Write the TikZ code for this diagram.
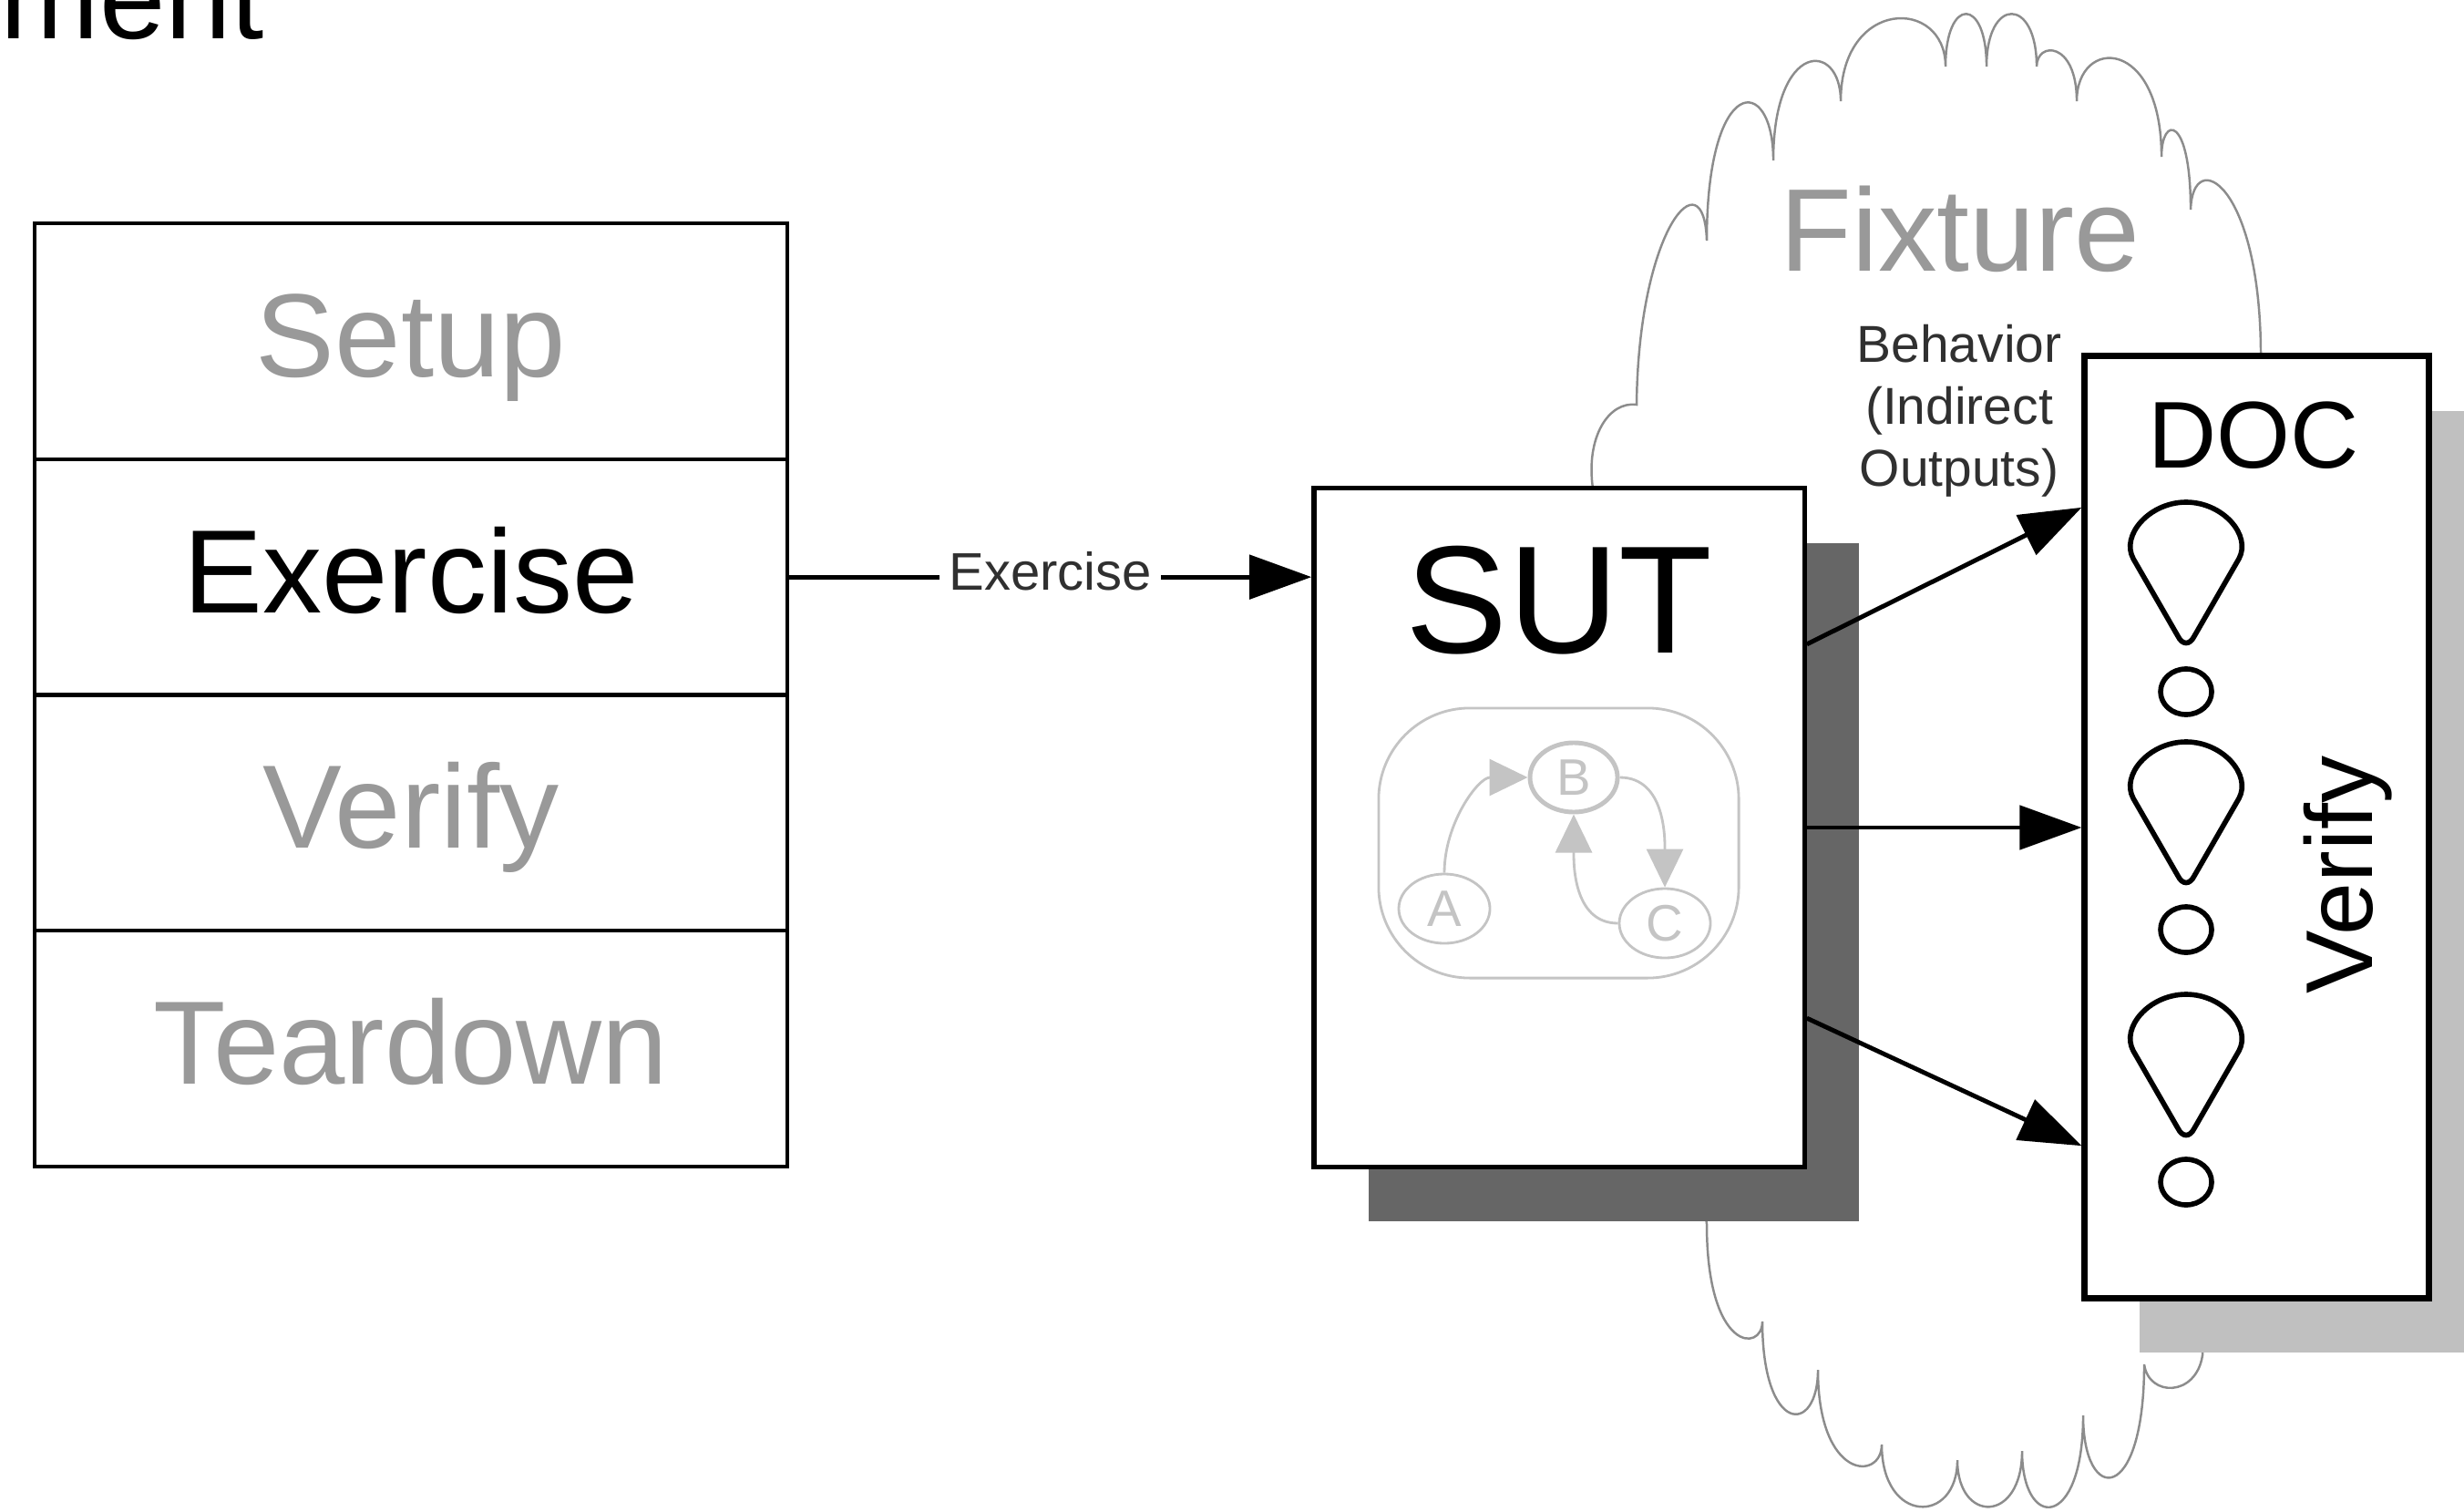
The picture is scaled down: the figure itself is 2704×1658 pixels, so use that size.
\documentclass[tikz,border=0pt]{standalone}
\usepackage{fontspec}
\setmainfont{Liberation Sans}
\usetikzlibrary{arrows.meta,shapes.geometric,shadows,calc}

\definecolor{phasegray}{HTML}{999999}
\definecolor{graphgray}{HTML}{C4C4C4}
\definecolor{cloudgray}{HTML}{8C8C8C}
\definecolor{sutshade}{HTML}{666666}
\definecolor{docshade}{HTML}{C0C0C0}
\definecolor{labelgray}{HTML}{303030}

\tikzset{
  phase/.style={draw=black, line width=1.1pt, inner sep=0pt,
    minimum width=8.26cm, minimum height=2.5875cm,
    text height=1cm, text depth=0.22cm,
    font=\fontsize{37}{44}\selectfont},
  sutbox/.style={draw=black, line width=1.5pt, fill=white, inner sep=0pt,
    minimum width=5.38cm, minimum height=7.44cm,
    drop shadow={shadow xshift=0.6cm, shadow yshift=-0.6cm, fill=sutshade, opacity=1}},
  docbox/.style={draw=black, line width=2pt, fill=white, inner sep=0pt,
    minimum width=3.77cm, minimum height=10.33cm,
    drop shadow={shadow xshift=0.6cm, shadow yshift=-0.6cm, fill=docshade, opacity=1}},
  cloudline/.style={draw=cloudgray, line width=0.7pt, fill=white},
  flow/.style={line width=1.4pt, -{Triangle[length=0.68cm,width=0.48cm]}},
  conlabel/.style={fill=white, text=labelgray, inner xsep=0.1cm, inner ysep=0pt,
    text height=0.42cm, text depth=0.14cm, font=\fontsize{16.5}{19}\selectfont},
  graphframe/.style={draw=graphgray, line width=0.8pt, rounded corners=1cm,
    minimum width=3.95cm, minimum height=2.96cm, inner sep=0pt},
  statenode/.style={ellipse, draw=graphgray, text=graphgray, line width=0.8pt,
    minimum width=1cm, minimum height=0.76cm, inner sep=0pt,
    font=\fontsize{16}{19}\selectfont},
  graphedge/.style={draw=graphgray, line width=0.8pt,
    -{Triangle[length=0.42cm,width=0.4cm,fill=graphgray]}},
  dropline/.style={draw=black, line width=1.6pt},
  docdrop/.pic={
    \draw[dropline] (-9,-147) -- (-58,-62)
      .. controls (-72,-36) and (-40,0) .. (0,0)
      .. controls (40,0) and (72,-36) .. (58,-62)
      -- (9,-147) .. controls (4,-157) and (-4,-157) .. (-9,-147) -- cycle;
  }
}

\begin{document}
\begin{tikzpicture}[x=0.01cm,y=0.01cm]
\useasboundingbox (0,0) rectangle (2704,-1658);
\fill[white] (0,0) rectangle (2704,-1658);
\clip (0,0) rectangle (2704,-1658);

% heading fragment at the top edge
\node[anchor=base west, inner sep=0pt, font=\fontsize{37}{44}\selectfont] (heading) at (0,-43) {ment};

% the four test phases
\node[phase, text=phasegray] (setup)    at (451,-374.375)  {Setup};
\node[phase, text=black]     (exercise) at (451,-633.125)  {Exercise};
\node[phase, text=phasegray] (verify)   at (451,-891.875)  {Verify};
\node[phase, text=phasegray] (teardown) at (451,-1150.625) {Teardown};

% fixture cloud (its hidden parts run under the SUT and DOC boxes)
\draw[cloudline] (1748,-536)
  .. controls (1740,-480) and (1765,-440) .. (1796,-444)
  .. controls (1798,-250) and (1870,-170) .. (1873,-264)
  .. controls (1873,-80) and (1946,-80) .. (1946,-176)
  .. controls (1946,-44) and (2020,-44) .. (2020,-111)
  .. controls (2020,3) and (2135,3) .. (2135,-73)
  .. controls (2135,4) and (2180,4) .. (2180,-73)
  .. controls (2180,4) and (2235,4) .. (2235,-73)
  .. controls (2235,-45) and (2279,-45) .. (2279,-111)
  .. controls (2279,-40) and (2372,-40) .. (2372,-172)
  .. controls (2372,-126) and (2404,-126) .. (2404,-230)
  .. controls (2406,-160) and (2481,-200) .. (2481,-391)
  -- (2417,-1487)
  .. controls (2410,-1533) and (2358,-1533) .. (2353,-1497)
  .. controls (2353,-1652) and (2286,-1652) .. (2286,-1553)
  .. controls (2286,-1680) and (2219,-1680) .. (2219,-1592)
  .. controls (2219,-1672) and (2148,-1672) .. (2148,-1602)
  .. controls (2148,-1673) and (2065,-1673) .. (2065,-1585)
  .. controls (2065,-1625) and (1995,-1625) .. (1995,-1503)
  .. controls (1995,-1575) and (1934,-1575) .. (1934,-1450)
  .. controls (1934,-1484) and (1873,-1484) .. (1873,-1343)
  -- cycle;
\node[anchor=base, inner sep=0pt, text=phasegray, font=\fontsize{36.7}{44}\selectfont]
  (fixture) at (2151,-298) {Fixture};

% system under test
\node[sutbox] (sut) at (1711,-908) {};
\node[anchor=base, inner sep=0pt, font=\fontsize{47.8}{56}\selectfont] (suttitle) at (1711,-716) {SUT};
\node[graphframe] (machine) at (1710.5,-925) {};
\node[statenode] (stA) at (1585,-997) {A};
\node[statenode, line width=1.4pt, minimum width=0.96cm] (stB) at (1727,-853) {B};
\node[statenode] (stC) at (1827,-1013) {C};
\draw[graphedge] (stA.north) to[out=90,in=180] (stB.west);
\draw[graphedge] (stB.east) to[out=0,in=90] (stC.north);
\draw[graphedge] (stC.west) to[out=180,in=-90] (stB.south);

% depended-on component
\node[docbox] (doc) at (2476.5,-907.5) {};
\node[anchor=base, inner sep=0pt, font=\fontsize{29.6}{35}\selectfont] (doctitle) at (2473,-513) {DOC};
\node[anchor=base, rotate=90, inner sep=0pt, font=\fontsize{29.6}{35}\selectfont] (docverify) at (2603,-960) {Verify};
\pic at (2399,-551) {docdrop};
\pic at (2399,-814) {docdrop};
\pic at (2399,-1091) {docdrop};
\draw[dropline] (2399,-759) ellipse [x radius=0.28cm, y radius=0.25cm];
\draw[dropline] (2399,-1020) ellipse [x radius=0.28cm, y radius=0.25cm];
\draw[dropline] (2399,-1297) ellipse [x radius=0.28cm, y radius=0.25cm];

% indirect outputs label
\node[align=center, inner sep=0pt, text=labelgray, font=\fontsize{16.2}{19.35}\selectfont]
  (behavior) at (2150,-451) {Behavior\\(Indirect\\Outputs)};

% connectors
\draw[flow] (exercise.east) -- node[conlabel] (exlabel) {Exercise} (exercise.east -| sut.west);
\draw[flow] ([yshift=2.01cm]sut.east) -- ([yshift=3.505cm]doc.west);
\draw[flow] (sut.east) -- (sut.east -| doc.west);
\draw[flow] ([yshift=-2.09cm]sut.east) -- ([yshift=-3.495cm]doc.west);
\end{tikzpicture}
\end{document}
